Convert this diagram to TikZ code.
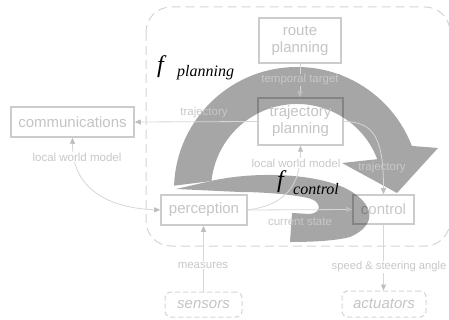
\documentclass[tikz,border=0pt]{standalone}
\usepackage{fontspec}
\setmainfont{Liberation Sans}
\newfontfamily\serifit{Liberation Serif}
\usetikzlibrary{arrows.meta}
\definecolor{arrowgray}{RGB}{166,166,166}
\definecolor{txtgray}{RGB}{196,196,196}
\definecolor{lblgray}{RGB}{200,200,200}
\definecolor{linegray}{RGB}{214,214,214}
\definecolor{tipgray}{RGB}{190,190,190}
\definecolor{dashgray}{RGB}{212,212,212}
\begin{document}
\begin{tikzpicture}[x=1pt,y=-1pt,
  box/.style={draw=black, draw opacity=0.2, line width=1.5pt, text=txtgray, inner sep=0pt, font=\fontsize{15}{17}\selectfont, align=center},
  dbox/.style={draw=dashgray, line width=1pt, dash pattern=on 5pt off 3pt, rounded corners=6pt, text=txtgray, inner sep=0pt, font=\fontsize{15}{17}\selectfont\itshape},
  lbl/.style={text=lblgray, inner sep=1pt, font=\fontsize{11.5}{13}\selectfont},
  tipA/.tip={Triangle[length=6pt,width=5pt,color=tipgray]},
  conn/.style={draw=linegray, line width=0.8pt, -tipA},
  conn2/.style={draw=linegray, line width=0.8pt, tipA-tipA},
  fsym/.style={font=\serifit\itshape\fontsize{24}{24}\selectfont, inner sep=0pt, anchor=base west},
  fsub/.style={font=\serifit\itshape\fontsize{16}{16}\selectfont, inner sep=0pt, anchor=base west},
]
\useasboundingbox (0,0) rectangle (449,320);

% dashed system boundary
\draw[dashgray, line width=1pt, dash pattern=on 9pt off 5pt, rounded corners=25pt] (146,7) rectangle (450,246);

% big planning arrow
\fill[arrowgray] ({297+123*cos(182)},{190+123*sin(182)}) arc[start angle=182,end angle=339,radius=123]
  -- (438,148) -- (397,193) -- (342,163)
  -- ({297+86*cos(339)},{190+86*sin(339)}) arc[start angle=339,end angle=186,radius=86] -- cycle;

% control curl
\fill[arrowgray] (176,189) -- (211,181) .. controls (250,172) and (310,172) .. (345,188)
  .. controls (375,203) and (378,225) .. (350,237)
  .. controls (335,241) and (310,242) .. (290,242)
  -- (292,213) -- (310,214) .. controls (322,213) and (322,201) .. (308,198)
  .. controls (290,194) and (260,192) .. (240,192) -- cycle;

% nodes
\node[box, minimum width=82pt, minimum height=45pt] (route) at (300,40.5) {route\\planning};
\node[box, minimum width=85pt, minimum height=47pt] (traj) at (300.5,121.5) {trajectory\\planning};
\node[box, minimum width=123pt, minimum height=30pt] (comm) at (72.5,122) {communications};
\node[box, minimum width=86pt, minimum height=30pt] (perc) at (204,210) {perception};
\node[box, minimum width=61pt, minimum height=29pt, text=black, text opacity=0.22] (ctrl) at (383.5,209.5) {control};
\node[dbox, minimum width=77pt, minimum height=25pt] (sens) at (203.5,304.5) {sensors};
\node[dbox, minimum width=84pt, minimum height=26pt] (act) at (384,304) {actuators};

% connectors
\draw[conn] (route.south) -- (route.south |- traj.north);
\draw[conn] (traj.west) -- (comm.east);
\draw[conn2] (comm.south) .. controls (72,190) and (110,208) .. (perc.west);
\draw[conn] (perc.east) .. controls (275,206) and (300.5,195) .. (traj.south);
\draw[conn] (perc.east) -- (ctrl.west);
\draw[conn] (traj.east) .. controls (375,121.5) and (383.5,140) .. (ctrl.north);
\draw[conn] (ctrl.south) -- (ctrl.south |- act.north);
\draw[conn] (sens.north) -- (sens.north |- perc.south);

% labels
\node[lbl, fill=arrowgray] (ltt) at (300,80) {temporal target};
\node[lbl] (ltr1) at (204,113) {trajectory};
\node[lbl, fill=white] (llwm1) at (77,157) {local world model};
\node[lbl, fill=white] (llwm2) at (296,163) {local world model};
\node[lbl] (lcs) at (300,222) {current state};
\node[lbl] (ltr2) at (382,168) {trajectory};
\node[lbl, fill=white, font=\fontsize{11.2}{13}\selectfont, inner sep=0.5pt] (lspd) at (389,267) {speed \& steering angle};
\node[lbl, fill=white] (lmeas) at (203,265) {measures};

% function symbols
\node[fsym] (fp) at (157,73) {f};
\node[fsub] (fps) at (177,77) {planning};
\node[fsym] (fc) at (277,188) {f};
\node[fsub] (fcs) at (293,195) {control};
\end{tikzpicture}
\end{document}
